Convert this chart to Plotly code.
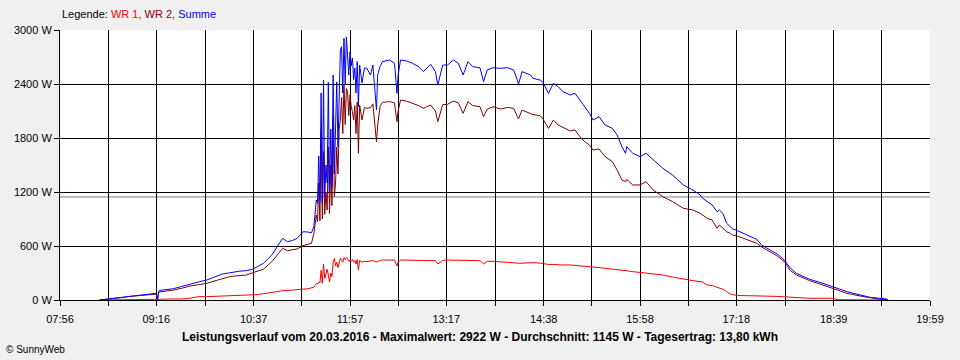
import plotly.graph_objects as go

# ---- data ----
times = [
    "08:29", "08:34", "08:40", "08:48", "08:54", "09:00", "09:05", "09:10", "09:16", "09:17",
    "09:18", "09:20", "09:25", "09:30", "09:37", "09:44", "09:51", "09:58", "10:04", "10:11",
    "10:16", "10:20", "10:25", "10:31", "10:36", "10:40", "10:45", "10:52", "10:57", "11:01",
    "11:05", "11:09", "11:13", "11:18", "11:22", "11:25", "11:27", "11:28", "11:29", "11:30",
    "11:31", "11:32", "11:33", "11:34", "11:35", "11:36", "11:37", "11:38", "11:39", "11:40",
    "11:41", "11:42", "11:43", "11:44", "11:45", "11:46", "11:47", "11:48", "11:49", "11:50",
    "11:51", "11:52", "11:53", "11:54", "11:55", "11:56", "11:57", "11:58", "11:59", "12:00",
    "12:01", "12:02", "12:03", "12:04", "12:05", "12:07", "12:09", "12:11", "12:14", "12:16",
    "12:19", "12:20", "12:22", "12:24", "12:30", "12:34", "12:36", "12:37", "12:39", "12:44",
    "12:49", "12:54", "12:58", "13:04", "13:08", "13:10", "13:14", "13:18", "13:23", "13:27",
    "13:31", "13:35", "13:39", "13:45", "13:48", "13:51", "13:56", "14:02", "14:08", "14:13",
    "14:16", "14:17", "14:20", "14:27", "14:29", "14:35", "14:37", "14:42", "14:46", "14:50",
    "14:54", "15:00", "15:04", "15:08", "15:12", "15:16", "15:19", "15:24", "15:29", "15:35",
    "15:39", "15:43", "15:46", "15:47", "15:52", "15:58", "16:03", "16:09", "16:17", "16:25",
    "16:34", "16:42", "16:48", "16:50", "16:54", "16:58", "17:02", "17:04", "17:07", "17:10",
    "17:13", "17:15", "17:19", "17:27", "17:35", "17:39", "17:44", "17:52", "17:58", "18:03",
    "18:08", "18:14", "18:19", "18:30", "18:38", "18:43", "18:50", "19:01", "19:07", "19:09",
    "19:16", "19:23", "19:24",
]

summe = [
    0, 8, 20, 30, 45, 55, 65, 70, 75, 0,
    100, 108, 115, 125, 150, 178, 200, 222, 255, 289,
    300, 311, 320, 326, 341, 370, 407, 500, 600, 685,
    648, 660, 685, 759, 755, 748, 815, 1000, 1111, 1074,
    1600, 1100, 2300, 1070, 2444, 1150, 1500, 1300, 2420, 1200,
    1900, 1250, 2500, 1400, 2000, 2422, 1700, 2200, 2778, 2815,
    2300, 2907, 2400, 2922, 2722, 2500, 2759, 2600, 2689, 2450,
    2578, 2300, 2650, 2150, 2611, 2411, 2578, 2574, 2500, 2611,
    2111, 2500, 2593, 2648, 2667, 2630, 2296, 2500, 2667, 2656,
    2630, 2593, 2537, 2619, 2537, 2389, 2611, 2611, 2667, 2630,
    2500, 2648, 2593, 2581, 2426, 2556, 2581, 2574, 2581, 2556,
    2444, 2396, 2537, 2500, 2463, 2444, 2426, 2296, 2407, 2370,
    2315, 2278, 2296, 2222, 2148, 2074, 2000, 2037, 1944, 1907,
    1833, 1704, 1630, 1704, 1630, 1593, 1630, 1556, 1463, 1389,
    1278, 1222, 1167, 1130, 1093, 1056, 981, 1000, 960, 852,
    815, 790, 770, 722, 674, 611, 574, 511, 444, 352,
    296, 260, 230, 185, 148, 125, 93, 56, 35, 30,
    20, 11, 0,
]

wr2 = [
    0, 6, 16, 28, 40, 48, 55, 60, 65, 0,
    85, 92, 100, 110, 130, 155, 170, 185, 210, 241,
    255, 265, 272, 278, 303, 320, 341, 426, 510, 574,
    548, 555, 567, 604, 615, 630, 741, 830, 944, 870,
    1300, 880, 1900, 900, 1650, 950, 1200, 1000, 1700, 960,
    1500, 1050, 2050, 1150, 1300, 1700, 1400, 1900, 2000, 2250,
    1850, 2400, 1950, 2350, 2315, 2050, 2280, 2150, 2093, 2000,
    2160, 1850, 2200, 1630, 2167, 2000, 2140, 2130, 2137, 2180,
    1759, 1944, 2150, 2196, 2204, 2190, 1981, 2100, 2222, 2210,
    2185, 2160, 2130, 2167, 2100, 1981, 2170, 2174, 2211, 2190,
    2074, 2204, 2160, 2148, 2037, 2120, 2148, 2122, 2140, 2130,
    2040, 2011, 2110, 2074, 2060, 2048, 2019, 1907, 2000, 1944,
    1915, 1878, 1890, 1815, 1759, 1722, 1667, 1678, 1593, 1537,
    1444, 1333, 1315, 1340, 1278, 1278, 1315, 1222, 1148, 1093,
    1019, 1000, 963, 944, 907, 889, 796, 833, 800, 759,
    740, 720, 711, 674, 630, 590, 548, 489, 426, 326,
    278, 240, 215, 167, 130, 110, 74, 44, 30, 26,
    12, 3, 0,
]

wr1 = [
    0, 0, 0, 0, 0, 0, 0, 0, 0, 0,
    0, 8, 11, 11, 11, 20, 37, 37, 40, 45,
    48, 48, 50, 55, 55, 60, 70, 80, 95, 104,
    104, 110, 115, 118, 125, 135, 141, 160, 185, 180,
    200, 190, 330, 185, 400, 240, 300, 341, 278, 200,
    300, 260, 415, 463, 380, 420, 360, 430, 463, 440,
    420, 470, 450, 474, 460, 430, 437, 430, 450, 420,
    440, 400, 450, 333, 440, 420, 430, 426, 430, 440,
    420, 430, 440, 444, 444, 444, 378, 420, 444, 444,
    440, 440, 437, 440, 437, 400, 440, 444, 444, 444,
    440, 444, 437, 437, 400, 430, 430, 426, 420, 415,
    410, 407, 410, 410, 415, 410, 405, 395, 395, 389,
    389, 389, 385, 380, 378, 370, 365, 360, 352, 345,
    333, 333, 325, 325, 315, 307, 300, 285, 278, 255,
    230, 215, 204, 200, 167, 160, 141, 130, 119, 93,
    67, 60, 50, 48, 48, 45, 45, 40, 35, 30,
    30, 19, 19, 19, 19, 3, 3, 3, 0, 0,
    0, 0, 0,
]

x_labels = ["07:56", "09:16", "10:37", "11:57", "13:17", "14:38", "15:58", "17:18", "18:39", "19:59"]
y_ticks = [0, 600, 1200, 1800, 2400, 3000]
y_labels = ["0 W", "600 W", "1200 W", "1800 W", "2400 W", "3000 W"]
average_w = 1145

title_text = ("Leistungsverlauf vom 20.03.2016 - Maximalwert: 2922 W - "
              "Durchschnitt: 1145 W - Tagesertrag: 13,80 kWh")

assert len(times) == len(summe) == len(wr2) == len(wr1)


def to_min(t):
    h, m = t.split(":")
    return int(h) * 60 + int(m)


x = [to_min(t) for t in times]
x_major = [to_min(t) for t in x_labels]
x_minor = [(a + b) / 2 for a, b in zip(x_major[:-1], x_major[1:])]

FONT = "Liberation Sans, Arial, sans-serif"

fig = go.Figure()
for name, vals, col in [("WR 1", wr1, "#FF0000"), ("WR 2", wr2, "#800000"), ("Summe", summe, "#0000FF")]:
    fig.add_trace(go.Scatter(
        x=x, y=vals, name=name, mode="lines",
        line=dict(color=col, width=1),
        hoverinfo="skip", showlegend=False,
    ))

# average line
fig.add_shape(type="line", xref="paper", yref="y", x0=0, x1=1, y0=average_w, y1=average_w,
              line=dict(color="#808080", width=1), layer="below")

fig.update_layout(
    width=960, height=360,
    margin=dict(l=60, r=30, t=30, b=60),
    paper_bgcolor="#F0F0F0",
    plot_bgcolor="#FFFFFF",
    font=dict(family=FONT, size=11, color="#000000"),
    showlegend=False,
    xaxis=dict(
        range=[x_major[0], x_major[-1]],
        tickmode="array", tickvals=x_major, ticktext=x_labels,
        showgrid=True, gridcolor="#000000", gridwidth=1,
        ticks="outside", ticklen=5, tickcolor="#000000", tickwidth=1,
        ticklabelstandoff=4,
        showline=True, linecolor="#000000", linewidth=1,
        zeroline=False,
        tickfont=dict(family=FONT, size=11, color="#000000"),
        minor=dict(tickmode="array", tickvals=x_minor, showgrid=True,
                   gridcolor="#000000", gridwidth=1,
                   ticks="outside", ticklen=5, tickcolor="#000000", tickwidth=1),
        fixedrange=True,
    ),
    yaxis=dict(
        range=[0, 3000],
        tickmode="array", tickvals=y_ticks, ticktext=y_labels,
        showgrid=True, gridcolor="#000000", gridwidth=1,
        ticks="outside", ticklen=5, tickcolor="#000000", tickwidth=1,
        showline=True, linecolor="#000000", linewidth=1,
        zeroline=False,
        tickfont=dict(family=FONT, size=11, color="#000000"),
        fixedrange=True,
    ),
    annotations=[
        dict(xref="paper", yref="paper", x=0, y=1, yshift=8, xanchor="left", yanchor="bottom",
             showarrow=False, align="left",
             text=("Legende: <span style='color:#FF0000'>WR 1, </span>"
                   "<span style='color:#800000'>WR 2, </span>"
                   "<span style='color:#0000FF'>Summe</span>"),
             font=dict(family=FONT, size=11, color="#000000")),
        dict(xref="paper", yref="paper", x=0.4828, y=0, yshift=-37, xanchor="center", yanchor="middle",
             showarrow=False, text="<b>" + title_text + "</b>",
             font=dict(family=FONT, size=12, color="#000000")),
        dict(xref="paper", yref="paper", x=0, xshift=-56, y=0, yshift=-49, xanchor="left", yanchor="middle",
             showarrow=False, text="© SunnyWeb",
             font=dict(family=FONT, size=10, color="#000000")),
    ],
)

fig.write_html("out.html", config={"displayModeBar": False},
               post_script="document.body.style.margin='0';")
